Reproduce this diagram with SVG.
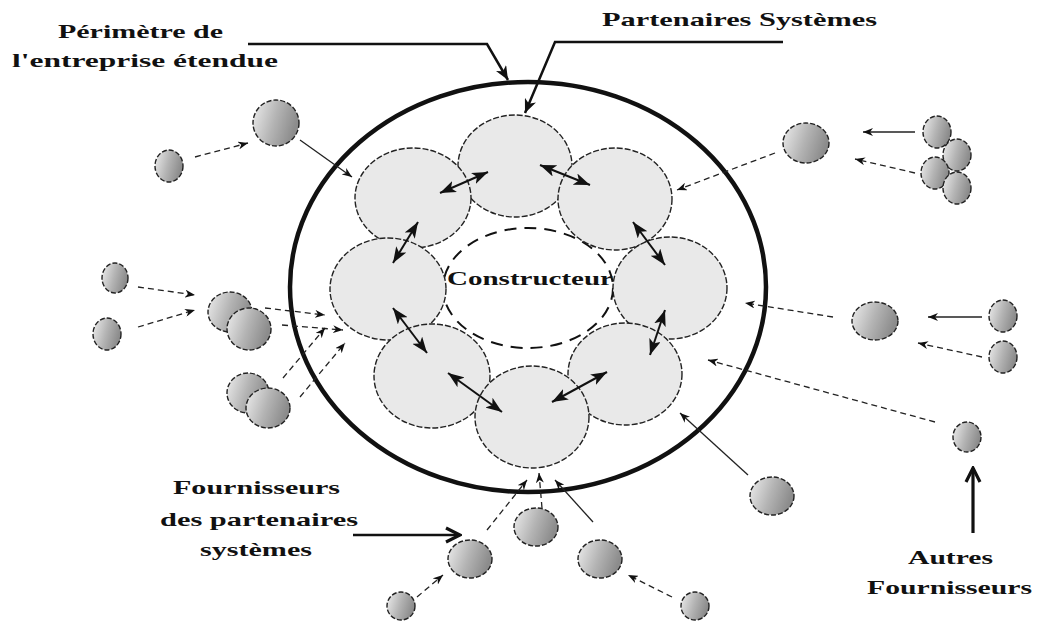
<svg xmlns="http://www.w3.org/2000/svg" width="1046" height="621" viewBox="0 0 1046 621">
<style>
.lbl{font-family:"Liberation Serif","Times New Roman",serif;font-weight:bold;font-size:19px;fill:#111}
.sat{fill:#e9e9e9;stroke:#222;stroke-width:1.4;stroke-dasharray:6 2}
.sup{fill:url(#g);stroke:#222;stroke-width:1.4;stroke-dasharray:5 2}
.ring{stroke:#111;stroke-width:2;fill:none}
.c{stroke:#222;stroke-width:1.3;fill:none}
.d{stroke-dasharray:6 4}
.big{stroke:#111;stroke-width:2.5;fill:none}
</style>
<defs>
<linearGradient id="g" x1="0" y1="0" x2="1" y2="0.3">
<stop offset="0" stop-color="#eeeeee"/>
<stop offset="0.55" stop-color="#b4b4b4"/>
<stop offset="1" stop-color="#8c8c8c"/>
</linearGradient>
<marker id="ah" viewBox="0 0 16 12" refX="16" refY="6" markerWidth="16" markerHeight="12" markerUnits="userSpaceOnUse" orient="auto-start-reverse"><path d="M0,0 L16,6 L0,12 L4,6 z" fill="#111"/></marker>
<marker id="sm" viewBox="0 0 10 8" refX="10" refY="4" markerWidth="10" markerHeight="8" markerUnits="userSpaceOnUse" orient="auto"><path d="M0,0 L10,4 L0,8 L3,4 z" fill="#111"/></marker>
<marker id="lg" viewBox="0 0 14 12" refX="14" refY="6" markerWidth="14" markerHeight="12" markerUnits="userSpaceOnUse" orient="auto"><path d="M0,0 L14,6 L0,12 L4,6 z" fill="#111"/></marker>
<marker id="chev" viewBox="0 0 18 18" refX="16" refY="9" markerWidth="18" markerHeight="18" markerUnits="userSpaceOnUse" orient="auto"><path d="M2,2 L16,9 L2,16" fill="none" stroke="#111" stroke-width="3.2"/></marker>
</defs>
<rect width="1046" height="621" fill="#fff"/>

<g id="perimetre">
<ellipse cx="528" cy="287" rx="238" ry="205" fill="none" stroke="#111" stroke-width="4.5"/>
</g>
<g id="constructeur">
<ellipse cx="528" cy="288" rx="85" ry="60" fill="none" stroke="#111" stroke-width="2" stroke-dasharray="12 8"/>
</g>

<g id="partenaire-haut"><ellipse class="sat" cx="515" cy="166" rx="57" ry="51"/></g>
<g id="partenaire-haut-gauche"><ellipse class="sat" cx="413" cy="198" rx="58" ry="50"/></g>
<g id="partenaire-haut-droite"><ellipse class="sat" cx="615" cy="199" rx="57" ry="51"/></g>
<g id="partenaire-gauche"><ellipse class="sat" cx="388" cy="289" rx="58" ry="51"/></g>
<g id="partenaire-droite"><ellipse class="sat" cx="670" cy="288" rx="57" ry="51"/></g>
<g id="partenaire-bas-gauche"><ellipse class="sat" cx="432" cy="376" rx="58" ry="52"/></g>
<g id="partenaire-bas-droite"><ellipse class="sat" cx="625" cy="374" rx="57" ry="51"/></g>
<g id="partenaire-bas"><ellipse class="sat" cx="532" cy="417" rx="57" ry="51"/></g>

<g id="constructeur-label"><text class="lbl" x="447" y="285" textLength="166" lengthAdjust="spacingAndGlyphs">Constructeur</text></g>

<g id="fournisseur-a"><ellipse class="sup" cx="276" cy="123" rx="23" ry="23"/></g>
<g id="fournisseur-b"><ellipse class="sup" cx="169" cy="166" rx="14" ry="16"/></g>
<g id="fournisseur-c"><ellipse class="sup" cx="806" cy="143" rx="23" ry="20"/></g>
<g id="fournisseur-c1"><ellipse class="sup" cx="937" cy="132" rx="14" ry="16"/></g>
<g id="fournisseur-c2"><ellipse class="sup" cx="957" cy="155" rx="14" ry="16"/></g>
<g id="fournisseur-c3"><ellipse class="sup" cx="935" cy="173" rx="14" ry="16"/></g>
<g id="fournisseur-c4"><ellipse class="sup" cx="957" cy="188" rx="14" ry="16"/></g>
<g id="fournisseur-d"><ellipse class="sup" cx="115" cy="278" rx="13" ry="15"/></g>
<g id="fournisseur-e"><ellipse class="sup" cx="107" cy="334" rx="14" ry="16"/></g>
<g id="fournisseur-f"><ellipse class="sup" cx="230" cy="312" rx="22" ry="20"/><ellipse class="sup" cx="249" cy="329" rx="22" ry="21"/></g>
<g id="fournisseur-g"><ellipse class="sup" cx="248" cy="393" rx="21" ry="20"/><ellipse class="sup" cx="268" cy="408" rx="22" ry="20"/></g>
<g id="fournisseur-h"><ellipse class="sup" cx="875" cy="321" rx="23" ry="19"/></g>
<g id="fournisseur-i1"><ellipse class="sup" cx="1003" cy="316" rx="14" ry="16"/></g>
<g id="fournisseur-i2"><ellipse class="sup" cx="1003" cy="357" rx="14" ry="16"/></g>
<g id="fournisseur-j"><ellipse class="sup" cx="967" cy="437" rx="14" ry="15"/></g>
<g id="fournisseur-k"><ellipse class="sup" cx="772" cy="496" rx="22" ry="19"/></g>
<g id="fournisseur-l"><ellipse class="sup" cx="536" cy="527" rx="22" ry="19"/></g>
<g id="fournisseur-m"><ellipse class="sup" cx="470" cy="559" rx="22" ry="19"/></g>
<g id="fournisseur-n"><ellipse class="sup" cx="600" cy="559" rx="22" ry="19"/></g>
<g id="fournisseur-o"><ellipse class="sup" cx="401" cy="606" rx="14" ry="14"/></g>
<g id="fournisseur-p"><ellipse class="sup" cx="695" cy="606" rx="14" ry="14"/></g>

<g id="connecteurs">
<line class="ring" x1="440" y1="193" x2="488" y2="172" marker-start="url(#ah)" marker-end="url(#ah)"/>
<line class="ring" x1="540" y1="165" x2="590" y2="185" marker-start="url(#ah)" marker-end="url(#ah)"/>
<line class="ring" x1="633" y1="222" x2="665" y2="265" marker-start="url(#ah)" marker-end="url(#ah)"/>
<line class="ring" x1="665" y1="310" x2="650" y2="355" marker-start="url(#ah)" marker-end="url(#ah)"/>
<line class="ring" x1="607" y1="372" x2="552" y2="402" marker-start="url(#ah)" marker-end="url(#ah)"/>
<line class="ring" x1="502" y1="412" x2="448" y2="373" marker-start="url(#ah)" marker-end="url(#ah)"/>
<line class="ring" x1="427" y1="353" x2="393" y2="308" marker-start="url(#ah)" marker-end="url(#ah)"/>
<line class="ring" x1="393" y1="263" x2="418" y2="222" marker-start="url(#ah)" marker-end="url(#ah)"/>

<line class="c d" x1="195" y1="157" x2="248" y2="143" marker-end="url(#sm)"/>
<line class="c" x1="300" y1="140" x2="352" y2="177" marker-end="url(#sm)"/>
<line class="c d" x1="775" y1="153" x2="677" y2="190" marker-end="url(#sm)"/>
<line class="c" x1="915" y1="132" x2="863" y2="132" marker-end="url(#sm)"/>
<line class="c d" x1="915" y1="173" x2="855" y2="159" marker-end="url(#sm)"/>
<line class="c d" x1="138" y1="287" x2="195" y2="295" marker-end="url(#sm)"/>
<line class="c d" x1="138" y1="327" x2="195" y2="310" marker-end="url(#sm)"/>
<line class="c d" x1="265" y1="308" x2="325" y2="315" marker-end="url(#sm)"/>
<line class="c d" x1="282" y1="325" x2="343" y2="330" marker-end="url(#sm)"/>
<line class="c d" x1="283" y1="378" x2="325" y2="328" marker-end="url(#sm)"/>
<line class="c d" x1="300" y1="397" x2="345" y2="343" marker-end="url(#sm)"/>
<line class="c" x1="982" y1="317" x2="928" y2="317" marker-end="url(#sm)"/>
<line class="c d" x1="982" y1="357" x2="918" y2="343" marker-end="url(#sm)"/>
<line class="c d" x1="833" y1="317" x2="745" y2="303" marker-end="url(#sm)"/>
<line class="c d" x1="935" y1="422" x2="708" y2="360" marker-end="url(#sm)"/>
<line class="c" x1="748" y1="475" x2="680" y2="413" marker-end="url(#sm)"/>
<line class="c d" x1="487" y1="530" x2="527" y2="480" marker-end="url(#sm)"/>
<line class="c d" x1="542" y1="508" x2="539" y2="473" marker-end="url(#sm)"/>
<line class="c" x1="593" y1="522" x2="555" y2="480" marker-end="url(#sm)"/>
<line class="c d" x1="417" y1="597" x2="443" y2="575" marker-end="url(#sm)"/>
<line class="c d" x1="672" y1="597" x2="628" y2="575" marker-end="url(#sm)"/>

<polyline class="big" points="248,44 487,44 508,80" marker-end="url(#lg)"/>
<polyline class="big" points="783,42 555,42 525,113" marker-end="url(#lg)"/>
<line stroke="#111" stroke-width="2.5" x1="353" y1="535" x2="460" y2="535" marker-end="url(#chev)"/>
<line stroke="#111" stroke-width="3.2" x1="973" y1="533" x2="973" y2="468" marker-end="url(#chev)"/>
</g>

<g id="labels">
<text class="lbl" x="58" y="38" textLength="165" lengthAdjust="spacingAndGlyphs">Périmètre de</text>
<text class="lbl" x="12" y="67" textLength="266" lengthAdjust="spacingAndGlyphs">l'entreprise étendue</text>
<text class="lbl" x="602" y="26" textLength="275" lengthAdjust="spacingAndGlyphs">Partenaires Systèmes</text>
<text class="lbl" x="173" y="494" textLength="167" lengthAdjust="spacingAndGlyphs">Fournisseurs</text>
<text class="lbl" x="160" y="526" textLength="198" lengthAdjust="spacingAndGlyphs">des partenaires</text>
<text class="lbl" x="200" y="556" textLength="112" lengthAdjust="spacingAndGlyphs">systèmes</text>
<text class="lbl" x="908" y="564" textLength="85" lengthAdjust="spacingAndGlyphs">Autres</text>
<text class="lbl" x="867" y="594" textLength="165" lengthAdjust="spacingAndGlyphs">Fournisseurs</text>
</g>
</svg>
